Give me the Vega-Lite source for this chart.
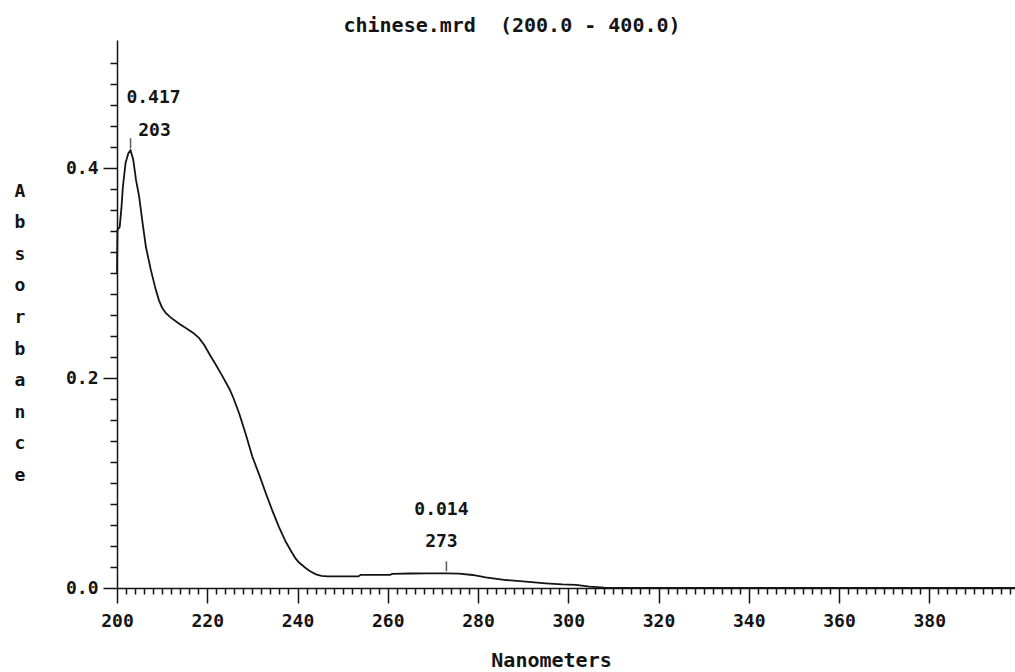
{
  "$schema": "https://vega.github.io/schema/vega-lite/v6.json",
  "width": 898,
  "height": 548,
  "autosize": "none",
  "padding": {"left": 117, "top": 40, "right": 0, "bottom": 84},
  "background": "white",
  "config": {
    "font": "DejaVu Sans Mono",
    "view": {"stroke": null},
    "axis": {
      "grid": false,
      "domainColor": "#141414",
      "domainWidth": 1.5,
      "tickColor": "#141414",
      "tickWidth": 1.5,
      "labelColor": "#141414",
      "titleColor": "#141414",
      "labelFont": "DejaVu Sans Mono",
      "titleFont": "DejaVu Sans Mono",
      "labelFontWeight": "bold",
      "titleFontWeight": "bold",
      "labelFlush": false
    }
  },
  "title": {
    "text": "chinese.mrd\u00a0 (200.0 - 400.0)",
    "anchor": "middle",
    "frame": "group",
    "dx": -54,
    "baseline": "alphabetic",
    "offset": -12,
    "font": "DejaVu Sans Mono",
    "fontSize": 20,
    "fontWeight": "bold",
    "color": "#141414"
  },
  "datasets": {
    "spectrum": [
      {"nm": 200.0, "A": 0.300},
      {"nm": 200.1, "A": 0.341},
      {"nm": 200.6, "A": 0.344},
      {"nm": 201.0, "A": 0.363},
      {"nm": 201.3, "A": 0.382},
      {"nm": 201.9, "A": 0.405},
      {"nm": 202.5, "A": 0.414},
      {"nm": 203.0, "A": 0.417},
      {"nm": 203.6, "A": 0.408},
      {"nm": 204.2, "A": 0.389},
      {"nm": 204.9, "A": 0.373},
      {"nm": 205.6, "A": 0.350},
      {"nm": 206.4, "A": 0.325},
      {"nm": 207.5, "A": 0.303},
      {"nm": 208.6, "A": 0.284},
      {"nm": 209.3, "A": 0.274},
      {"nm": 210.0, "A": 0.267},
      {"nm": 210.8, "A": 0.262},
      {"nm": 211.8, "A": 0.258},
      {"nm": 213.7, "A": 0.252},
      {"nm": 215.5, "A": 0.247},
      {"nm": 216.9, "A": 0.243},
      {"nm": 218.2, "A": 0.238},
      {"nm": 219.4, "A": 0.231},
      {"nm": 220.6, "A": 0.222},
      {"nm": 222.0, "A": 0.212},
      {"nm": 223.2, "A": 0.203},
      {"nm": 224.1, "A": 0.196},
      {"nm": 225.0, "A": 0.189},
      {"nm": 225.8, "A": 0.181},
      {"nm": 227.1, "A": 0.166},
      {"nm": 228.5, "A": 0.147},
      {"nm": 230.0, "A": 0.125},
      {"nm": 231.5, "A": 0.108},
      {"nm": 233.0, "A": 0.090},
      {"nm": 234.4, "A": 0.074},
      {"nm": 235.9, "A": 0.058},
      {"nm": 237.4, "A": 0.044},
      {"nm": 238.6, "A": 0.035},
      {"nm": 239.6, "A": 0.028},
      {"nm": 240.4, "A": 0.024},
      {"nm": 241.8, "A": 0.019},
      {"nm": 242.8, "A": 0.016},
      {"nm": 244.1, "A": 0.013},
      {"nm": 245.3, "A": 0.0115},
      {"nm": 246.6, "A": 0.011},
      {"nm": 249.2, "A": 0.011},
      {"nm": 253.5, "A": 0.011},
      {"nm": 254.0, "A": 0.0125},
      {"nm": 260.5, "A": 0.0125},
      {"nm": 261.0, "A": 0.0135},
      {"nm": 265.0, "A": 0.0138},
      {"nm": 269.0, "A": 0.0139},
      {"nm": 273.0, "A": 0.014},
      {"nm": 275.8, "A": 0.0136},
      {"nm": 278.8, "A": 0.0124},
      {"nm": 281.7, "A": 0.0102},
      {"nm": 286.2, "A": 0.0076},
      {"nm": 290.6, "A": 0.006},
      {"nm": 295.0, "A": 0.0045},
      {"nm": 298.7, "A": 0.0035},
      {"nm": 301.7, "A": 0.003},
      {"nm": 304.7, "A": 0.0013},
      {"nm": 308.0, "A": 0.0003},
      {"nm": 312.0, "A": 0.0},
      {"nm": 399.0, "A": 0.0}
    ],
    "peaks": [
      {"nm": 203, "A": 0.417},
      {"nm": 273, "A": 0.014}
    ]
  },
  "layer": [
    {
      "data": {"name": "spectrum"},
      "mark": {"type": "line", "color": "#141414", "strokeWidth": 1.8},
      "encoding": {
        "x": {
          "field": "nm",
          "type": "quantitative",
          "scale": {"domain": [200, 399], "nice": false, "zero": false},
          "axis": {
            "orient": "bottom",
            "values": [202, 204, 206, 208, 210, 212, 214, 216, 218, 222, 224, 226, 228, 230, 232, 234, 236, 238, 242, 244, 246, 248, 250, 252, 254, 256, 258, 262, 264, 266, 268, 270, 272, 274, 276, 278, 282, 284, 286, 288, 290, 292, 294, 296, 298, 302, 304, 306, 308, 310, 312, 314, 316, 318, 322, 324, 326, 328, 330, 332, 334, 336, 338, 342, 344, 346, 348, 350, 352, 354, 356, 358, 362, 364, 366, 368, 370, 372, 374, 376, 378, 382, 384, 386, 388, 390, 392, 394, 396, 398],
            "tickSize": 6,
            "labels": false,
            "title": null
          }
        },
        "y": {
          "field": "A",
          "type": "quantitative",
          "scale": {"domain": [0, 0.522], "nice": false, "zero": false},
          "axis": {
            "orient": "left",
            "values": [0.02, 0.04, 0.06, 0.08, 0.1, 0.12, 0.14, 0.16, 0.18, 0.22, 0.24, 0.26, 0.28, 0.3, 0.32, 0.34, 0.36, 0.38, 0.42, 0.44, 0.46, 0.48, 0.5],
            "tickSize": 7,
            "labels": false,
            "title": null
          }
        }
      }
    },
    {
      "data": {"name": "peaks"},
      "mark": {"type": "tick", "orient": "vertical", "size": 10, "thickness": 1.5, "yOffset": -7, "color": "#141414"},
      "encoding": {
        "x": {
          "field": "nm",
          "type": "quantitative",
          "axis": {
            "orient": "bottom",
            "values": [200, 220, 240, 260, 280, 300, 320, 340, 360, 380],
            "tickSize": 15,
            "domain": false,
            "labelFontSize": 18,
            "labelPadding": 9,
            "labelOverlap": false,
            "title": "Nanometers",
            "titleFontSize": 20,
            "titleX": 434,
            "titleY": 78,
            "titleAlign": "center",
            "titleBaseline": "alphabetic"
          }
        },
        "y": {
          "field": "A",
          "type": "quantitative",
          "axis": {
            "orient": "left",
            "values": [0, 0.2, 0.4],
            "format": ".1f",
            "tickSize": 14,
            "domain": false,
            "labelFontSize": 18,
            "labelPadding": 5,
            "title": ["A", "b", "s", "o", "r", "b", "a", "n", "c", "e"],
            "titleAngle": 0,
            "titleFontSize": 18,
            "titleLineHeight": 31.6,
            "titleX": -97.5,
            "titleY": 156,
            "titleAlign": "center",
            "titleBaseline": "alphabetic"
          }
        }
      }
    },
    {
      "data": {"name": "peaks"},
      "transform": [{"filter": "datum.nm < 250"}],
      "mark": {"type": "text", "dx": 23, "dy": -52, "fontSize": 18, "fontWeight": "bold", "font": "DejaVu Sans Mono", "color": "#141414", "baseline": "middle"},
      "encoding": {
        "x": {"field": "nm", "type": "quantitative", "axis": null},
        "y": {"field": "A", "type": "quantitative", "axis": null},
        "text": {"field": "A", "type": "quantitative", "format": ".3f"}
      }
    },
    {
      "data": {"name": "peaks"},
      "transform": [{"filter": "datum.nm < 250"}],
      "mark": {"type": "text", "dx": 24, "dy": -19, "fontSize": 18, "fontWeight": "bold", "font": "DejaVu Sans Mono", "color": "#141414", "baseline": "middle"},
      "encoding": {
        "x": {"field": "nm", "type": "quantitative", "axis": null},
        "y": {"field": "A", "type": "quantitative", "axis": null},
        "text": {"field": "nm", "type": "quantitative", "format": "d"}
      }
    },
    {
      "data": {"name": "peaks"},
      "transform": [{"filter": "datum.nm > 250"}],
      "mark": {"type": "text", "dx": -5, "dy": -63, "fontSize": 18, "fontWeight": "bold", "font": "DejaVu Sans Mono", "color": "#141414", "baseline": "middle"},
      "encoding": {
        "x": {"field": "nm", "type": "quantitative", "axis": null},
        "y": {"field": "A", "type": "quantitative", "axis": null},
        "text": {"field": "A", "type": "quantitative", "format": ".3f"}
      }
    },
    {
      "data": {"name": "peaks"},
      "transform": [{"filter": "datum.nm > 250"}],
      "mark": {"type": "text", "dx": -5, "dy": -31, "fontSize": 18, "fontWeight": "bold", "font": "DejaVu Sans Mono", "color": "#141414", "baseline": "middle"},
      "encoding": {
        "x": {"field": "nm", "type": "quantitative", "axis": null},
        "y": {"field": "A", "type": "quantitative", "axis": null},
        "text": {"field": "nm", "type": "quantitative", "format": "d"}
      }
    }
  ],
  "resolve": {"axis": {"x": "independent", "y": "independent"}}
}
